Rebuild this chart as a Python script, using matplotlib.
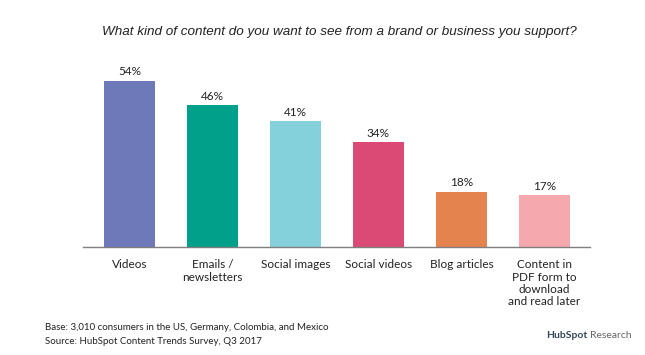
import matplotlib
matplotlib.use("Agg")
import matplotlib.pyplot as plt

categories = ["Videos", "Emails /\nnewsletters", "Social images", "Social videos",
              "Blog articles", "Content in\nPDF form to\ndownload\nand read later"]
values = [54, 46, 41, 34, 18, 17]
colors = ["#6E79B9", "#00A08A", "#84D1DC", "#DB4A74", "#E5834F", "#F5A8AD"]

W, H = 645, 355
fig = plt.figure(figsize=(W / 100, H / 100), dpi=100)
ax_left, ax_right, ax_bottom, ax_top = 83, 590, 247, 62
ax = fig.add_axes([ax_left / W, 1 - ax_bottom / H, (ax_right - ax_left) / W, (ax_bottom - ax_top) / H])

x = list(range(len(values)))
ax.bar(x, values, width=0.61, color=colors)
ax.set_xlim(-0.56, 5.55)
ax.set_ylim(0, 60)
for xi, v in zip(x, values):
    ax.text(xi, v + 1.0, f"{v}%", ha="center", va="bottom", fontsize=8.5,
            family="Lato", color="#222222")

for s in ["top", "right", "left"]:
    ax.spines[s].set_visible(False)
ax.spines["bottom"].set_color("#7f7f7f")
ax.spines["bottom"].set_linewidth(1.0)
ax.set_yticks([])
ax.set_xticks(x)
ax.set_xticklabels(categories, fontsize=8.5, family="Lato", color="#222222", linespacing=1.12)
ax.tick_params(axis="x", length=0, pad=9)

fig.text(339 / W, 1 - 32 / H, "What kind of content do you want to see from a brand or business you support?",
         ha="center", va="center", fontsize=9.7, style="italic", family="Liberation Sans", color="#222222")

fig.text(45 / W, 1 - 328 / H, "Base: 3,010 consumers in the US, Germany, Colombia, and Mexico",
         ha="left", va="center", fontsize=7, family="Lato", color="#222222")
fig.text(45 / W, 1 - 341 / H, "Source: HubSpot Content Trends Survey, Q3 2017",
         ha="left", va="center", fontsize=7, family="Lato", color="#222222")

t = fig.text(546 / W, 1 - 336 / H, "HubSpot", ha="left", va="center", fontsize=7.5,
             family="Lato", weight="bold", color="#33475B")
fig.canvas.draw()
bb = t.get_window_extent()
fig.text((bb.x1 + 3) / W, 1 - 336 / H, "Research", ha="left", va="center", fontsize=7.5,
         family="Lato", color="#666666")

fig.savefig("out.png", dpi=100)
